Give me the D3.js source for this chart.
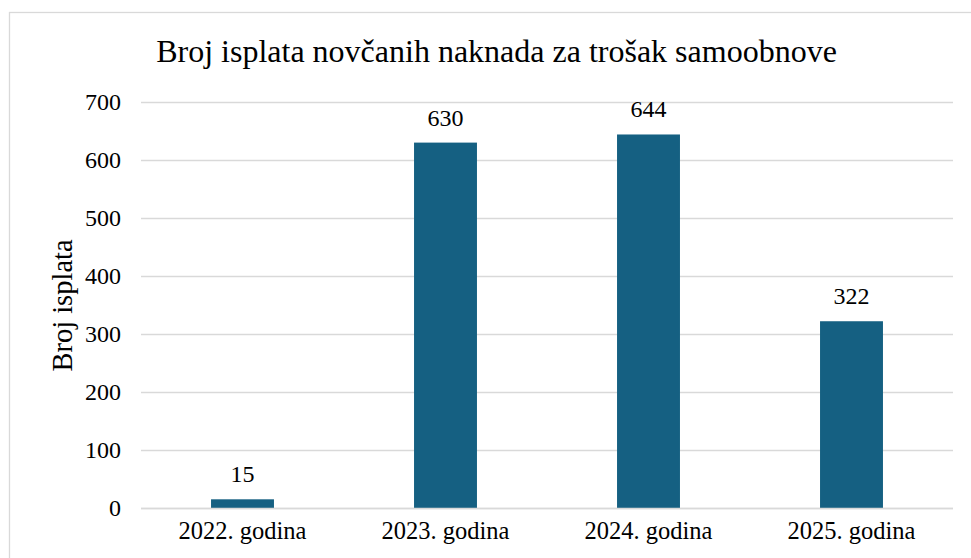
<!DOCTYPE html>
<html>
<head>
<meta charset="utf-8">
<script src="https://cdn.jsdelivr.net/npm/d3@7"></script>
<style>
  body { margin: 0; background: #fff; }
  text { font-family: "Liberation Serif", "Times New Roman", serif; fill: #000; }
</style>
</head>
<body>
<div id="chart"></div>
<script>
// values
const YEARS = ["2022. godina", "2023. godina", "2024. godina", "2025. godina"];
const PAYMENTS = [15, 630, 644, 322];
const Y_TICKS = [0, 100, 200, 300, 400, 500, 600, 700];

const width = 971;
const height = 558;
const plot = { left: 141, right: 953, top: 102, bottom: 508 };

const svg = d3.select("#chart").append("svg")
    .attr("width", width)
    .attr("height", height);

// chart frame (right/bottom edges run off the picture)
svg.append("rect")
    .attr("x", 9.5)
    .attr("y", 12.5)
    .attr("width", 980)
    .attr("height", 580)
    .attr("fill", "none")
    .attr("stroke", "#d9d9d9")
    .attr("stroke-width", 1.3);

const x = d3.scaleBand()
    .domain(YEARS)
    .range([plot.left, plot.right])
    .paddingInner(0.69)
    .paddingOuter(0.345);

const y = d3.scaleLinear()
    .domain([0, 700])
    .range([plot.bottom, plot.top]);

// gridlines
svg.append("g")
  .selectAll("line")
  .data(Y_TICKS)
  .enter()
  .append("line")
    .attr("x1", plot.left)
    .attr("x2", plot.right)
    .attr("y1", d => Math.round(y(d)) + 0.5)
    .attr("y2", d => Math.round(y(d)) + 0.5)
    .attr("stroke", "#d9d9d9")
    .attr("stroke-width", 1.3);

// y axis labels
var yAxis = d3.axisLeft(y).tickValues(Y_TICKS).tickSize(0).tickPadding(20);
svg.append("g")
    .attr("class", "y axis")
    .attr("transform", "translate(" + plot.left + ",0)")
    .call(yAxis)
    .call(g => g.select(".domain").remove())
    .selectAll("text")
    .style("font-family", '"Liberation Serif", "Times New Roman", serif')
    .style("font-size", "24px")
    .attr("fill", "#000");

// bars
svg.selectAll("rect.bar")
    .data(PAYMENTS)
    .enter()
    .append("rect")
    .attr("class", "bar")
    .attr("x", (d, i) => x(YEARS[i]))
    .attr("y", d => y(d))
    .attr("width", x.bandwidth())
    .attr("height", d => y(0) - y(d))
    .attr("fill", "#156082");

// baseline over bars
svg.append("line")
    .attr("x1", plot.left)
    .attr("x2", plot.right)
    .attr("y1", Math.round(y(0)) + 0.5)
    .attr("y2", Math.round(y(0)) + 0.5)
    .attr("stroke", "#d9d9d9")
    .attr("stroke-width", 1.3);

// value labels
svg.selectAll("text.value")
    .data(PAYMENTS)
    .enter()
    .append("text")
    .attr("class", "value")
    .attr("x", (d, i) => x(YEARS[i]) + x.bandwidth() / 2)
    .attr("y", d => y(d) - 17)
    .attr("text-anchor", "middle")
    .style("font-size", "24px")
    .text(d => d);

// x axis labels
var xAxis = d3.axisBottom(x).tickSize(0).tickPadding(14);
svg.append("g")
    .attr("class", "x axis")
    .attr("transform", "translate(0," + plot.bottom + ")")
    .call(xAxis)
    .call(g => g.select(".domain").remove())
    .selectAll("text")
    .style("font-family", '"Liberation Serif", "Times New Roman", serif')
    .style("font-size", "24.5px")
    .attr("fill", "#000");

// y axis title
svg.append("text")
    .attr("transform", "translate(72," + 305.5 + ") rotate(-90)")
    .attr("text-anchor", "middle")
    .style("font-size", "28.5px")
    .text("Broj isplata");

// title
svg.append("text")
    .attr("x", 496.5)
    .attr("y", 62)
    .attr("text-anchor", "middle")
    .style("font-size", "32px")
    .text("Broj isplata novčanih naknada za trošak samoobnove");
</script>
</body>
</html>
